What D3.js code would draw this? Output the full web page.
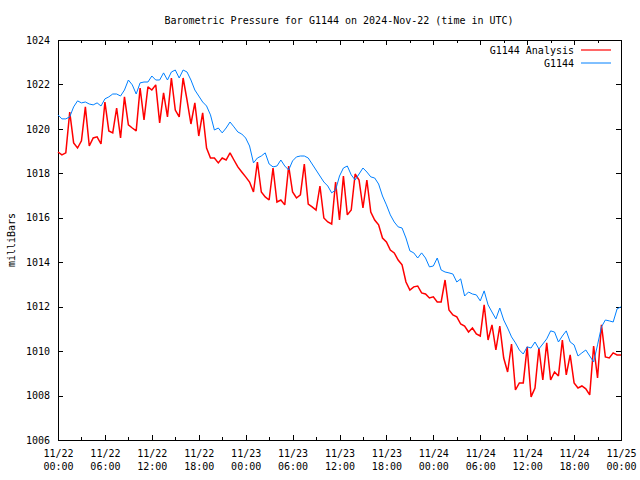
<!DOCTYPE html>
<html>
<head>
<meta charset="utf-8">
<script src="https://cdn.jsdelivr.net/npm/d3@7"></script>
<style>
  html, body { margin: 0; padding: 0; background: #fff; }
  svg { display: block; }
  text { font-family: "DejaVu Sans Mono", "Liberation Mono", monospace; font-size: 10px; fill: #000; }
</style>
</head>
<body>
<svg id="chart" width="640" height="480"></svg>
<script>
// ---- data (30-minute samples, 2024-11-22 00:00 UTC .. 2024-11-25 00:00 UTC) ----
const startTime = "2024-11-22T00:00:00Z";
const endTime = "2024-11-25T00:00:00Z";
const stepMinutes = 30;

const seriesNames = ["G1144 Analysis", "G1144"];

const analysisValues = [
  1018.96, 1018.83, 1018.92, 1020.76, 1019.37, 1019.14, 1019.46, 1020.99, 1019.23, 1019.59,
  1019.64, 1019.32, 1021.21, 1019.91, 1019.82, 1020.94, 1019.59, 1021.44, 1020.18, 1020.04,
  1019.91, 1021.84, 1020.40, 1021.89, 1021.75, 1021.98, 1020.27, 1021.62, 1020.54, 1022.29,
  1020.85, 1020.54, 1022.29, 1021.30, 1020.22, 1021.17, 1019.68, 1020.72, 1019.14, 1018.69,
  1018.69, 1018.47, 1018.69, 1018.60, 1018.92, 1018.60, 1018.29, 1018.06, 1017.84, 1017.61,
  1017.16, 1018.51, 1017.16, 1016.94, 1016.80, 1018.24, 1016.71, 1016.80, 1016.58, 1018.33,
  1017.16, 1016.89, 1017.03, 1018.42, 1016.62, 1016.49, 1016.35, 1017.43, 1015.99, 1015.81,
  1015.72, 1017.61, 1015.90, 1017.88, 1016.13, 1016.35, 1017.97, 1017.70, 1016.44, 1017.70,
  1016.26, 1015.90, 1015.68, 1015.09, 1014.91, 1014.55, 1014.42, 1014.10, 1013.88, 1013.11,
  1012.75, 1012.89, 1012.93, 1012.62, 1012.57, 1012.39, 1012.44, 1012.21, 1012.21, 1013.20,
  1011.85, 1011.63, 1011.54, 1011.22, 1011.13, 1010.86, 1011.04, 1010.77, 1010.68, 1012.08,
  1010.50, 1011.18, 1010.05, 1011.13, 1009.69, 1009.06, 1010.32, 1008.25, 1008.57, 1008.57,
  1010.19, 1007.94, 1008.34, 1010.14, 1008.70, 1010.37, 1008.70, 1009.06, 1008.88, 1010.50,
  1008.93, 1009.83, 1008.57, 1008.34, 1008.43, 1008.30, 1008.03, 1010.23, 1008.79, 1011.18,
  1009.74, 1009.69, 1009.92, 1009.83, 1009.83
];

const stationValues = [
  1020.63, 1020.45, 1020.45, 1020.54, 1020.99, 1021.26, 1021.17, 1021.21, 1021.12, 1021.08,
  1021.17, 1021.03, 1021.35, 1021.44, 1021.57, 1021.57, 1021.48, 1021.75, 1022.20, 1021.98,
  1021.57, 1022.07, 1022.11, 1022.11, 1022.38, 1022.20, 1022.20, 1022.52, 1022.20, 1022.56,
  1022.65, 1022.29, 1022.65, 1022.56, 1022.20, 1021.75, 1021.48, 1021.21, 1021.03, 1020.63,
  1019.95, 1020.04, 1019.82, 1020.04, 1020.31, 1020.09, 1019.86, 1019.77, 1019.59, 1019.23,
  1018.47, 1018.69, 1018.78, 1018.92, 1018.42, 1018.29, 1018.33, 1018.60, 1018.33, 1018.15,
  1018.56, 1018.74, 1018.78, 1018.78, 1018.69, 1018.42, 1018.15, 1017.88, 1017.61, 1017.43,
  1017.12, 1017.25, 1017.88, 1018.24, 1018.33, 1017.93, 1017.70, 1017.97, 1018.24, 1018.06,
  1017.84, 1017.79, 1017.52, 1016.98, 1016.58, 1016.13, 1015.81, 1015.59, 1015.54, 1015.09,
  1014.51, 1014.42, 1014.19, 1014.42, 1014.19, 1013.79, 1013.83, 1014.19, 1013.65, 1013.56,
  1013.52, 1013.47, 1013.11, 1013.25, 1012.48, 1012.66, 1012.57, 1012.53, 1012.26, 1012.71,
  1012.08, 1011.76, 1011.45, 1011.94, 1011.40, 1011.04, 1010.64, 1010.37, 1010.05, 1009.87,
  1010.19, 1010.14, 1010.41, 1010.10, 1010.32, 1010.55, 1010.91, 1010.86, 1010.41, 1010.68,
  1010.91, 1010.41, 1010.28, 1009.78, 1009.92, 1010.05, 1009.78, 1009.51, 1010.28, 1011.09,
  1011.40, 1011.36, 1011.31, 1011.90, 1011.99
];

const yTicks = [1006, 1008, 1010, 1012, 1014, 1016, 1018, 1020, 1022, 1024];
const yDomain = [1006, 1024];
const titleText = "Barometric Pressure for G1144 on 2024-Nov-22 (time in UTC)";
const yLabel = "milliBars";

// ---- layout ----
const svg = d3.select("#chart");
const L = 58, R = 621, T = 40, B = 440;

const t0 = new Date(startTime), t1 = new Date(endTime);
const times = analysisValues.map((_, i) => new Date(t0.getTime() + i * stepMinutes * 60000));

const x = d3.scaleUtc().domain([t0, t1]).range([L, R]);
const y = d3.scaleLinear().domain(yDomain).range([B, T]);

const majorTicks = d3.utcHour.every(6).range(t0, new Date(t1.getTime() + 1));
const minorTicks = d3.utcHour.every(3).range(t0, new Date(t1.getTime() + 1)).filter(d => d.getUTCHours() % 6 !== 0);

function styleAxis(g) {
  g.select(".domain").remove();
  g.selectAll("line").attr("stroke", "#000").attr("shape-rendering", "crispEdges");
  g.selectAll("text").attr("fill", "#000").attr("font-family", null).attr("font-size", null);
}

// bottom major ticks with two-line labels
const fmtDate = d3.utcFormat("%m/%d"), fmtTime = d3.utcFormat("%H:%M");
const gxb = svg.append("g").attr("transform", `translate(0,${B})`)
  .call(d3.axisBottom(x).tickValues(majorTicks).tickSize(-5).tickSizeOuter(0).tickFormat(""));
styleAxis(gxb);
gxb.selectAll(".tick").each(function(d) {
  const t = d3.select(this).select("text");
  t.attr("y", null).attr("dy", null).attr("text-anchor", "middle");
  t.append("tspan").attr("x", 0).attr("y", 17).text(fmtDate(d));
  t.append("tspan").attr("x", 0).attr("y", 30).text(fmtTime(d));
});
const gxbm = svg.append("g").attr("transform", `translate(0,${B})`)
  .call(d3.axisBottom(x).tickValues(minorTicks).tickSize(-3).tickSizeOuter(0).tickFormat(""));
styleAxis(gxbm);

// top ticks (mirror)
const gxt = svg.append("g").attr("transform", `translate(0,${T})`)
  .call(d3.axisTop(x).tickValues(majorTicks).tickSize(-5).tickSizeOuter(0).tickFormat(""));
styleAxis(gxt);
const gxtm = svg.append("g").attr("transform", `translate(0,${T})`)
  .call(d3.axisTop(x).tickValues(minorTicks).tickSize(-3).tickSizeOuter(0).tickFormat(""));
styleAxis(gxtm);

// left axis with labels
const gyl = svg.append("g").attr("transform", `translate(${L},0)`)
  .call(d3.axisLeft(y).tickValues(yTicks).tickSize(-5).tickSizeOuter(0).tickPadding(8).tickFormat(d3.format("d")));
styleAxis(gyl);
// right mirror ticks
const gyr = svg.append("g").attr("transform", `translate(${R},0)`)
  .call(d3.axisRight(y).tickValues(yTicks).tickSize(-5).tickSizeOuter(0).tickFormat(""));
styleAxis(gyr);

// border
svg.append("rect").attr("x", L).attr("y", T).attr("width", R - L).attr("height", B - T)
  .attr("fill", "none").attr("stroke", "#000").attr("stroke-width", 1).attr("shape-rendering", "crispEdges");

// lines
const analysisLine = d3.line().x((d, i) => x(times[i])).y(d => y(d));
const stationLine = d3.line().x((d, i) => x(times[i])).y(d => y(d));

svg.append("path").datum(analysisValues).attr("d", analysisLine)
  .attr("fill", "none").attr("stroke", "#ff0000").attr("stroke-width", 1.5).attr("stroke-linejoin", "miter").attr("stroke-miterlimit", 2);
svg.append("path").datum(stationValues).attr("d", stationLine)
  .attr("fill", "none").attr("stroke", "#0080ff").attr("stroke-width", 1);

// title
svg.append("text").attr("x", 339).attr("y", 24).attr("text-anchor", "middle").text(titleText);

// y label
svg.append("text").attr("transform", "translate(15,240) rotate(-90)").attr("text-anchor", "middle").text(yLabel);

// legend
const legendColors = ["#ff0000", "#0080ff"];
const legendWidths = [1.2, 1];
seriesNames.forEach((name, i) => {
  const ly = 50 + i * 13;
  svg.append("text").attr("x", 574).attr("y", ly + 3.5).attr("text-anchor", "end").text(name);
  svg.append("line").attr("x1", 581).attr("x2", 611).attr("y1", ly).attr("y2", ly)
    .attr("stroke", legendColors[i]).attr("stroke-width", legendWidths[i]);
});
</script>
</body>
</html>
